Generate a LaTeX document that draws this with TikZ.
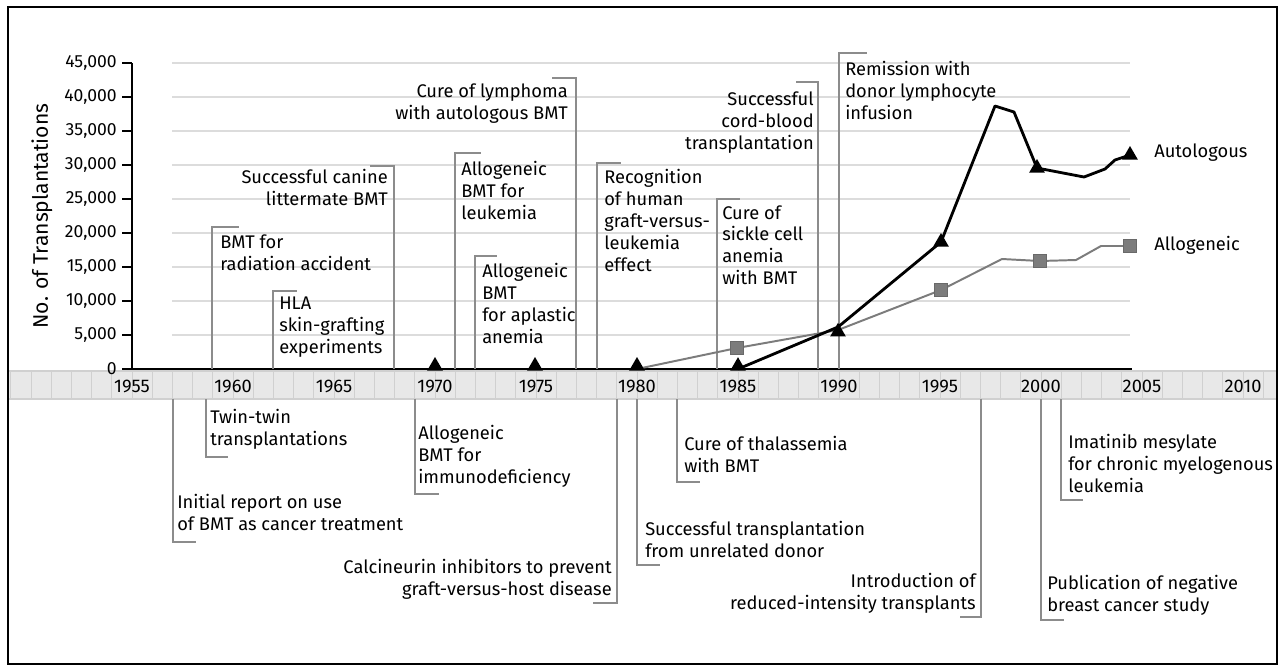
\documentclass[tikz,border=0pt]{standalone}
\usepackage{fontspec}
\setmainfont{Fira Sans}
\usetikzlibrary{shapes.geometric}

\definecolor{gridgray}{HTML}{DCDCDC}
\definecolor{bandgray}{HTML}{E8E8E8}
\definecolor{divgray}{HTML}{D0D0D0}
\definecolor{markgray}{HTML}{7C7C7C}
\definecolor{leadgray}{HTML}{8C8C8C}

\begin{document}
\begin{tikzpicture}[x=0.025cm, y=-0.025cm,
    lead/.style={draw=leadgray, line width=1pt},
    labl/.style={inner sep=0pt, anchor=north west, align=left, font=\fontsize{13}{15.6}\selectfont},
    labr/.style={inner sep=0pt, anchor=north east, align=right, font=\fontsize{13}{15.6}\selectfont},
    tri/.style={regular polygon, regular polygon sides=3, fill=black, inner sep=0pt, minimum size=0.45cm},
    sq/.style={rectangle, fill=markgray, draw=markgray!85!black, inner sep=0pt, minimum size=0.33cm}]

    \useasboundingbox (0,0) rectangle (1285,667);

    % Frame
    \draw[line width=1.4pt] (8,7) rectangle (1277,664);

    % Grid of the chart
    \foreach \v in {1,...,9}
        \draw[gridgray, line width=0.9pt] (172,369-34*\v) -- (1130,369-34*\v);

    % Year band
    \fill[bandgray] (9,371) rectangle (1276,399);
    \foreach \yr in {1949,...,2011}
        \draw[divgray, line width=0.7pt] ({132+(\yr-1955)*20.2},371) -- ++(0,28);
    \draw[divgray, line width=0.8pt] (9,371) -- (1276,371);
    \draw[divgray, line width=0.8pt] (9,399) -- (1276,399);

    \foreach \yr in {1955,1960,...,2010}
        \node[font=\fontsize{13}{15}\selectfont] (yr\yr) at ({132+(\yr-1955)*20.2},386) {\yr};

    % Axes
    \draw[line width=2pt] (132,63) -- (132,369) -- (1132,369);
    \foreach \v/\lab in {0/0,1/{5,000},2/{10,000},3/{15,000},4/{20,000},5/{25,000},6/{30,000},7/{35,000},8/{40,000},9/{45,000}} {
        \draw[line width=1.2pt] (122,369-34*\v) -- (132,369-34*\v);
        \node[anchor=east, inner sep=0pt, font=\fontsize{12.5}{14}\selectfont] (tk\v) at (117,369-34*\v) {\lab};
    }

    \node[rotate=90, font=\fontsize{15}{17}\selectfont] (ylab) at (42,216) {No. of Transplantations};


    % Events above the axis

    \coordinate (b59) at (212,369);
    \coordinate (t59) at (212,227);
    \draw[lead] (b59) -- (t59) -- ++(27,0);
    \node[labl] (e59) at (220,235) {BMT for\\radiation accident};

    \coordinate (b62) at (273,369);
    \coordinate (t62) at (273,291);
    \draw[lead] (b62) -- (t62) -- ++(24,0);
    \node[labl] (e62) at (279,297) {HLA\\skin-grafting\\experiments};

    \coordinate (b68) at (394,369);
    \coordinate (t68) at (394,166);
    \draw[lead] (b68) -- (t68) -- ++(-24,0);
    \node[labr] (e68) at (388,169) {Successful canine\\littermate BMT};

    \coordinate (b71) at (455,369);
    \coordinate (t71) at (455,153);
    \draw[lead] (b71) -- (t71) -- ++(26,0);
    \node[labl] (e71) at (461,161) {Allogeneic\\BMT for\\leukemia};

    \coordinate (b72) at (475,369);
    \coordinate (t72) at (475,256);
    \draw[lead] (b72) -- (t72) -- ++(22,0);
    \node[labl] (e72) at (482,263) {Allogeneic\\BMT\\for aplastic\\anemia};

    \coordinate (b77) at (576,369);
    \coordinate (t77) at (576,78);
    \draw[lead] (b77) -- (t77) -- ++(-24,0);
    \node[labr] (e77) at (568,84) {Cure of lymphoma\\with autologous BMT};

    \coordinate (b78) at (597,369);
    \coordinate (t78) at (597,163);
    \draw[lead] (b78) -- (t78) -- ++(24,0);
    \node[labl] (e78) at (604,169) {Recognition\\of human\\graft-versus-\\leukemia\\effect};

    \coordinate (b84) at (717,369);
    \coordinate (t84) at (717,199);
    \draw[lead] (b84) -- (t84) -- ++(23,0);
    \node[labl] (e84) at (722,205) {Cure of\\sickle cell\\anemia\\with BMT};

    \coordinate (b88) at (818,369);
    \coordinate (t88) at (818,82);
    \draw[lead] (b88) -- (t88) -- ++(-22,0);
    \node[labr] (e88) at (814,92) {Successful\\cord-blood\\transplantation};

    \coordinate (b90) at (839,369);
    \coordinate (t90) at (839,53);
    \draw[lead] (b90) -- (t90) -- ++(28,0);
    \node[labl] (e90) at (845,61) {Remission with\\donor lymphocyte\\infusion};


    % Events below the axis

    \coordinate (c57) at (173,399);
    \coordinate (d57) at (173,542);
    \draw[lead] (c57) -- (d57) -- ++(23,0);
    \node[labl] (f57) at (177,494) {Initial report on use\\of BMT as cancer treatment};

    \coordinate (c58) at (206,399);
    \coordinate (d58) at (206,457);
    \draw[lead] (c58) -- (d58) -- ++(22,0);
    \node[labl] (f58) at (210,409) {Twin-twin\\transplantations};

    \coordinate (c69) at (415,399);
    \coordinate (d69) at (415,494);
    \draw[lead] (c69) -- (d69) -- ++(24,0);
    \node[labl] (f69) at (418,425) {Allogeneic\\BMT for\\immunodeficiency};

    \coordinate (c79) at (617,399);
    \coordinate (d79) at (617,603);
    \draw[lead] (c79) -- (d79) -- ++(-24,0);
    \node[labr] (f79) at (612,559) {Calcineurin inhibitors to prevent\\graft-versus-host disease};

    \coordinate (c80) at (637,399);
    \coordinate (d80) at (637,565);
    \draw[lead] (c80) -- (d80) -- ++(23,0);
    \node[labl] (f80) at (645,521) {Successful transplantation\\from unrelated donor};

    \coordinate (c82) at (677,399);
    \coordinate (d82) at (677,482);
    \draw[lead] (c82) -- (d82) -- ++(23,0);
    \node[labl] (f82) at (684,436) {Cure of thalassemia\\with BMT};

    \coordinate (c97) at (981,399);
    \coordinate (d97) at (981,617);
    \draw[lead] (c97) -- (d97) -- ++(-21,0);
    \node[labr] (f97) at (976,573) {Introduction of\\reduced-intensity transplants};

    \coordinate (c00) at (1041,399);
    \coordinate (d00) at (1041,620);
    \draw[lead] (c00) -- (d00) -- ++(23,0);
    \node[labl] (f00) at (1047,575) {Publication of negative\\breast cancer study};

    \coordinate (c01) at (1061,399);
    \coordinate (d01) at (1061,500);
    \draw[lead] (c01) -- (d01) -- ++(22,0);
    \node[labl] (f01) at (1068,434) {Imatinib mesylate\\for chronic myelogenous\\leukemia};


    % Allogeneic
    \coordinate (g80) at (637,369);
    \coordinate (g85) at (737,348);
    \coordinate (g90) at (838,330);
    \coordinate (g95) at (941,290);
    \coordinate (g98) at (1002,259);
    \coordinate (g00) at (1040,261);
    \coordinate (g02) at (1076,260);
    \coordinate (g03) at (1101,246);
    \coordinate (g05) at (1130,246);

    \draw[markgray, line width=1.4pt, line join=round] (g80) -- (g85) -- (g90) -- (g95) -- (g98) -- (g00) -- (g02) -- (g03) -- (g05);

    % Autologous
    \coordinate (a70) at (435,366);
    \coordinate (a75) at (535,366);
    \coordinate (a80) at (637,366);
    \coordinate (a85) at (738,369);
    \coordinate (a90) at (838,327);
    \coordinate (a95) at (941,242);
    \coordinate (a97) at (995,106);
    \coordinate (a98) at (1014,112);
    \coordinate (a00) at (1037,168);
    \coordinate (a02) at (1084,177);
    \coordinate (a03) at (1105,169);
    \coordinate (a04) at (1115,160);
    \coordinate (a05) at (1130,155);

    \draw[line width=2pt, line join=round] (a85) -- (a90) -- (a95) -- (a97) -- (a98) -- (a00) -- (a02) -- (a03) -- (a04) -- (a05);

    \node[sq] (s85) at (g85) {};
    \node[sq] (s95) at (g95) {};
    \node[sq] (s00) at (g00) {};
    \node[sq] (s05) at (g05) {};

    \node[tri] (m70) at (a70) {};
    \node[tri] (m75) at (a75) {};
    \node[tri] (m80) at (a80) {};
    \node[tri] (m85) at ([yshift=0.07cm]a85) {};
    \node[tri] (m90) at ([yshift=-0.12cm]a90) {};
    \node[tri] (m95) at (a95) {};
    \node[tri] (m00) at (a00) {};
    \node[tri] (m05) at (a05) {};

    \node[anchor=west, inner sep=0pt, font=\fontsize{13}{15}\selectfont] (autolab) at (1154,153) {Autologous};
    \node[anchor=west, inner sep=0pt, font=\fontsize{13}{15}\selectfont] (allolab) at (1154,245) {Allogeneic};

\end{tikzpicture}
\end{document}
